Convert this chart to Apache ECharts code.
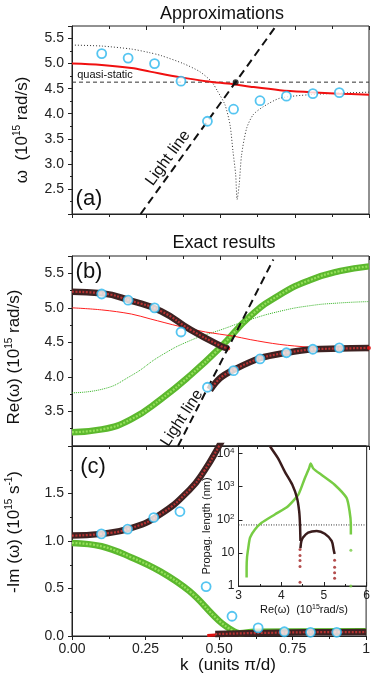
<!DOCTYPE html>
<html><head><meta charset="utf-8">
<script src="https://cdn.jsdelivr.net/npm/echarts/dist/echarts.min.js"></script>
<style>html,body{margin:0;padding:0;background:#fff}#c{width:373px;height:683px}</style>
</head><body><div id="c"></div>
<script>
// ---------- DATA ----------
// open circles (shared k positions)
const kCirc  = [0.100, 0.189, 0.278, 0.367, 0.456, 0.544, 0.633, 0.722, 0.811, 0.900];
const reCirc = [5.20, 5.11, 5.00, 4.65, 3.85, 4.09, 4.26, 4.35, 4.40, 4.42];
const imCirc = [1.075, 1.124, 1.247, 1.31, 0.52, 0.208, 0.085, 0.045, 0.039, 0.039];

// panel (a) dotted approximation with the cusp
const kDotA = [0, 0.1, 0.2, 0.26, 0.3, 0.375, 0.43, 0.47, 0.49, 0.515, 0.532, 0.542, 0.551, 0.556, 0.563, 0.571, 0.588, 0.61, 0.644, 0.7, 0.8, 0.9, 1.0];
const wDotA = [5.37, 5.35, 5.29, 5.22, 5.16, 5.0, 4.84, 4.64, 4.45, 4.18, 3.78, 3.25, 2.79, 2.29, 2.59, 3.18, 3.71, 3.98, 4.14, 4.31, 4.38, 4.41, 4.43];
// red approximation (panels a and b)
const kRed = [0, 0.1, 0.2, 0.263, 0.363, 0.45, 0.543, 0.6, 0.7, 0.8, 0.9, 1.0];
const wRed = [5.0, 4.97, 4.91, 4.84, 4.73, 4.65, 4.59, 4.54, 4.47, 4.43, 4.40, 4.38];
// quasi-static level
const kQS = [0, 1];
const wQS = [4.63, 4.63];
// light lines
const kLightA = [0.231, 0.687];
const wLightA = [2.0, 5.75];
const kLightB = [0.357, 0.678];
const wLightB = [3.0, 5.70];
const crossPt = [0.551, 4.63];

// panel (b) exact results
const kUpB = [0, 0.1, 0.2, 0.3, 0.4, 0.5, 0.526];
const wUpB = [5.233, 5.21, 5.10, 4.95, 4.68, 4.45, 4.41];
const kLoB = [0.465, 0.498, 0.543, 0.633, 0.723, 0.812, 0.902, 1.0];
const wLoB = [3.81, 3.98, 4.10, 4.27, 4.35, 4.40, 4.41, 4.42];
const kGrB = [0, 0.1, 0.2, 0.3, 0.4, 0.5, 0.6, 0.7, 0.8, 0.9, 1.0];
const wGrB = [3.20, 3.24, 3.39, 3.68, 4.03, 4.43, 4.88, 5.19, 5.40, 5.53, 5.60];
const kGdB = [0, 0.1, 0.2, 0.3, 0.4, 0.5, 0.6, 0.7, 0.8, 0.9, 1.0];
const wGdB = [3.77, 3.82, 4.02, 4.31, 4.53, 4.68, 4.83, 4.95, 5.03, 5.07, 5.09];
const kEndB = [0.526, 1.0];
const wEndB = [4.41, 4.42];

// panel (c)
const kUpC = [0, 0.1, 0.2, 0.3, 0.4, 0.45, 0.5, 0.52];
const imUpC = [1.057, 1.075, 1.135, 1.28, 1.54, 1.74, 2.0, 2.12];
const kLoC = [0.487, 0.6, 0.7, 0.8, 0.9, 1.0];
const imLoC = [0.02, 0.03, 0.035, 0.04, 0.04, 0.042];
const kRedC = [0.46, 0.487];
const imRedC = [0.005, 0.01];
const kGrC = [0, 0.1, 0.2, 0.3, 0.4, 0.5, 0.55, 0.57, 0.62, 1.0];
const imGrC = [0.98, 0.945, 0.83, 0.68, 0.47, 0.16, 0.05, 0.03, 0.045, 0.05];

// inset: propagation length (nm) vs Re(w)
const reIn1 = [3.735, 3.775, 3.93, 4.086, 4.26, 4.37, 4.42, 4.44, 4.45];
const lenIn1 = [17000, 14100, 7080, 2820, 1150, 457, 182, 72, 23];
const reIn1r = [4.44, 4.44, 4.44, 4.44, 4.44];
const lenIn1r = [12.6, 8.3, 5.9, 3.9, 1.3];
const reArch = [4.45, 4.47, 4.51, 4.63, 4.83, 5.02, 5.18, 5.23, 5.25];
const lenArch = [14, 22, 29, 41, 46, 38, 23, 12, 9.3];
const reArchR = [5.25, 5.25, 5.25, 5.25];
const lenArchR = [6, 3.7, 2.5, 1.7];
const reInG = [3.19, 3.19, 3.20, 3.23, 3.27, 3.385, 3.54, 3.85, 4.16, 4.40, 4.55, 4.65, 4.69, 4.75, 4.94, 5.25, 5.53, 5.60, 5.63, 5.63];
const lenInG = [1.8, 3.7, 7.4, 14.5, 29, 51, 81, 145, 257, 575, 1780, 3550, 5000, 3550, 2290, 1150, 457, 182, 72, 36];
const reInGd = [5.63, 5.63];
const lenInGd = [12, 1];
const reInLvl = [3, 6];
const lenInLvl = [70, 70];

// ---------- CHART ----------
const FONT = '"Liberation Sans", Arial, sans-serif';
const pairs = (xs, ys) => xs.map((x, i) => [x, ys[i]]);
const chart = echarts.init(document.getElementById('c'));

const grids = [
  {left: 72, top: 26, width: 297, height: 188},
  {left: 72, top: 256, width: 297, height: 190},
  {left: 72, top: 446, width: 297, height: 190},
  {left: 238.5, top: 446, width: 128.5, height: 140}
].map(g => Object.assign({show: true, borderColor: '#222', borderWidth: 1, backgroundColor: '#fff', containLabel: false}, g));

function kAxis(gi, labels) {
  return [{
    type: 'value', gridIndex: gi, min: 0, max: 1, interval: 0.25, position: 'bottom',
    axisLine: {show: true, onZero: false, lineStyle: {color: '#222'}},
    axisTick: {show: true, length: 4, lineStyle: {color: '#222'}},
    minorTick: {show: true, splitNumber: 2, length: 3, lineStyle: {color: '#222'}},
    splitLine: {show: false},
    axisLabel: {show: labels, fontFamily: FONT, fontSize: 14, color: '#222', margin: 6,
      formatter: v => v === 1 ? '1' : v.toFixed(2)}
  }, {
    type: 'value', gridIndex: gi, min: 0, max: 1, interval: 0.25, position: 'top',
    axisLine: {show: false}, axisTick: {show: true, inside: true, length: 4, lineStyle: {color: '#222'}},
    minorTick: {show: true, splitNumber: 2, length: 3, lineStyle: {color: '#222'}},
    splitLine: {show: false}, axisLabel: {show: false}
  }];
}
function vAxis(gi, min, max, interval, fmt, hideMin, hideMax) {
  return [{
    type: 'value', gridIndex: gi, min: min, max: max, interval: interval, position: 'left',
    axisLine: {show: true, onZero: false, lineStyle: {color: '#222'}},
    axisTick: {show: true, length: 4, lineStyle: {color: '#222'}},
    minorTick: {show: true, splitNumber: 2, length: 2, lineStyle: {color: '#222'}},
    splitLine: {show: false},
    axisLabel: {fontFamily: FONT, fontSize: 14, color: '#222', margin: 8,
      showMinLabel: !hideMin, showMaxLabel: !hideMax, formatter: fmt}
  }, {
    type: 'value', gridIndex: gi, min: min, max: max, interval: interval, position: 'right',
    axisLine: {show: false}, axisTick: {show: true, inside: true, length: 4, lineStyle: {color: '#222'}},
    minorTick: {show: true, splitNumber: 2, length: 2, lineStyle: {color: '#222'}},
    splitLine: {show: false}, axisLabel: {show: false}
  }];
}
const f1 = v => v.toFixed(1);
const xAxes = [...kAxis(0, false), ...kAxis(1, false), ...kAxis(2, true), {
  type: 'value', gridIndex: 3, min: 3, max: 6, interval: 1, position: 'bottom',
  axisLine: {show: true, onZero: false, lineStyle: {color: '#222'}},
  axisTick: {show: true, inside: true, length: 4, lineStyle: {color: '#222'}},
  minorTick: {show: true, splitNumber: 2, length: 2, lineStyle: {color: '#222'}},
  splitLine: {show: false},
  axisLabel: {fontFamily: FONT, fontSize: 12, color: '#222', margin: 4}
}];
const yAxes = [...vAxis(0, 2.0, 5.75, 0.5, f1, true, true), ...vAxis(1, 3.0, 5.75, 0.5, f1, true, true),
  ...vAxis(2, 0, 2.0, 0.5, f1, false, true), {
  type: 'log', logBase: 10, gridIndex: 3, min: 1, max: 17000, position: 'left',
  axisLine: {show: true, onZero: false, lineStyle: {color: '#222'}},
  axisTick: {show: true, inside: true, length: 4, lineStyle: {color: '#222'}},
  splitLine: {show: false},
  axisLabel: {fontFamily: FONT, fontSize: 12, color: '#222', margin: 4, showMaxLabel: false,
    formatter: v => { const e = Math.round(Math.log10(v)); if (e === 0) return '1'; if (e === 1) return '10'; return '10{s|' + e + '}'; },
    rich: {s: {fontSize: 8, fontFamily: FONT, color: '#222', verticalAlign: 'top', lineHeight: 14}}}
}];

function line(xi, yi, xs, ys, color, width, type, smooth, z) {
  return {type: 'line', xAxisIndex: xi, yAxisIndex: yi, data: pairs(xs, ys), symbol: 'none',
    smooth: smooth === undefined ? 0.35 : smooth, clip: true, z: z || 2,
    lineStyle: {color: color, width: width, type: type || 'solid', cap: 'butt'}, silent: true, animation: false};
}
function band(xi, yi, xs, ys, outer, inner, smooth) {
  return [line(xi, yi, xs, ys, outer, 6.5, 'solid', smooth), line(xi, yi, xs, ys, inner, 2.2, [2, 1.5], smooth)];
}
function dots(xi, yi, xs, ys, color, size, z) {
  return {type: 'scatter', xAxisIndex: xi, yAxisIndex: yi, data: pairs(xs, ys), symbol: 'circle', symbolSize: size,
    itemStyle: {color: color}, z: z || 3, silent: true, animation: false};
}
function circles(xi, yi, xs, ys) {
  return {type: 'scatter', xAxisIndex: xi, yAxisIndex: yi, data: pairs(xs, ys), symbol: 'circle', symbolSize: 9,
    itemStyle: {color: '#fff', borderColor: '#2bb6ee', borderWidth: 1.8}, z: 5, silent: true, animation: false};
}
const DARK = '#3d2222', DRED = '#b83232', GOUT = '#5cb82e', GIN = '#95e05a';

const series = [
  // panel a
  line(0, 0, kQS, wQS, '#333', 1, [4, 3], false),
  line(0, 0, kDotA, wDotA, '#333', 1, [1, 2], 0.25),
  line(0, 0, kRed, wRed, '#f01010', 2),
  line(0, 0, kLightA, wLightA, '#111', 2, [8, 5], false, 4),
  dots(0, 0, [crossPt[0]], [crossPt[1]], '#111', 6, 4),
  circles(0, 0, kCirc, reCirc),
  // panel b
  ...band(2, 2, kGrB, wGrB, GOUT, GIN, 0.5),
  line(2, 2, kGdB, wGdB, '#33b322', 1, [1, 1], 0.5),
  line(2, 2, kRed, wRed, '#ff2020', 1),
  ...band(2, 2, kUpB, wUpB, DARK, DRED, 0.5),
  ...band(2, 2, kLoB, wLoB, DARK, DRED),
  dots(2, 2, kEndB, wEndB, '#e01010', 4),
  line(2, 2, kLightB, wLightB, '#111', 2, [8, 5], false, 4),
  circles(2, 2, kCirc, reCirc),
  // panel c
  ...band(4, 4, kGrC, imGrC, GOUT, GIN, 0.4),
  ...band(4, 4, kUpC, imUpC, DARK, DRED, 0.5),
  ...band(4, 4, kLoC, imLoC, DARK, DRED, false),
  line(4, 4, kRedC, imRedC, '#e01010', 3, 'solid', false),
  circles(4, 4, kCirc, imCirc),
  // inset
  line(6, 6, reInLvl, lenInLvl, '#333', 1, [1, 1.5], false),
  line(6, 6, reInG, lenInG, '#77cc44', 2.5, 'solid', 0.2),
  dots(6, 6, reInGd, lenInGd, '#77cc44', 3),
  line(6, 6, reIn1, lenIn1, '#3a1c1c', 2.5, 'solid', 0.2),
  dots(6, 6, reIn1r, lenIn1r, '#a02020', 3),
  line(6, 6, reArch, lenArch, '#3a1c1c', 2.5, 'solid', 0.3),
  dots(6, 6, reArchR, lenArchR, '#a02020', 3)
];

function txt(x, y, text, size, opts) {
  opts = opts || {};
  return {type: 'text', x: x, y: y, rotation: opts.rot || 0, z: 20, silent: true,
    style: {text: text, fontFamily: FONT, fontSize: size, fill: '#111', align: opts.align || 'center', verticalAlign: 'middle',
      rich: {s: {fontSize: Math.round(size * 0.6), fontFamily: FONT, fill: '#111', verticalAlign: 'top', lineHeight: size + 2},
             n: {fontSize: size, fontFamily: FONT, fill: '#111', lineHeight: size + 2}}}};
}
const R90 = Math.PI / 2;
const graphic = [
  txt(222, 14, 'Approximations', 18),
  txt(224, 243, 'Exact results', 18),
  txt(89, 199, '(a)', 22),
  txt(89, 272, '(b)', 22),
  txt(93, 467, '(c)', 22),
  txt(105, 75, 'quasi-static', 11),
  txt(168, 158, 'Light line', 16, {rot: 54 * Math.PI / 180}),
  txt(182, 418, 'Light line', 16, {rot: 57 * Math.PI / 180}),
  txt(22, 130, '{n|ω  (10}{s|15}{n| rad/s)}', 17, {rot: R90}),
  txt(14, 357, '{n|Re(ω) (10}{s|15}{n| rad/s)}', 17, {rot: R90}),
  txt(14, 532, '{n|-Im (ω) (10}{s|15}{n| s}{s|-1}{n|)}', 17, {rot: R90}),
  txt(228, 665, 'k  (units π/d)', 17),
  txt(304, 610, '{n|Re(ω)  (10}{s|15}{n|rad/s)}', 11),
  txt(207, 526, 'Propag. length (nm)', 11, {rot: R90})
];

chart.setOption({
  animation: false,
  grid: grids,
  xAxis: xAxes,
  yAxis: yAxes,
  series: series,
  graphic: graphic
});
</script></body></html>
